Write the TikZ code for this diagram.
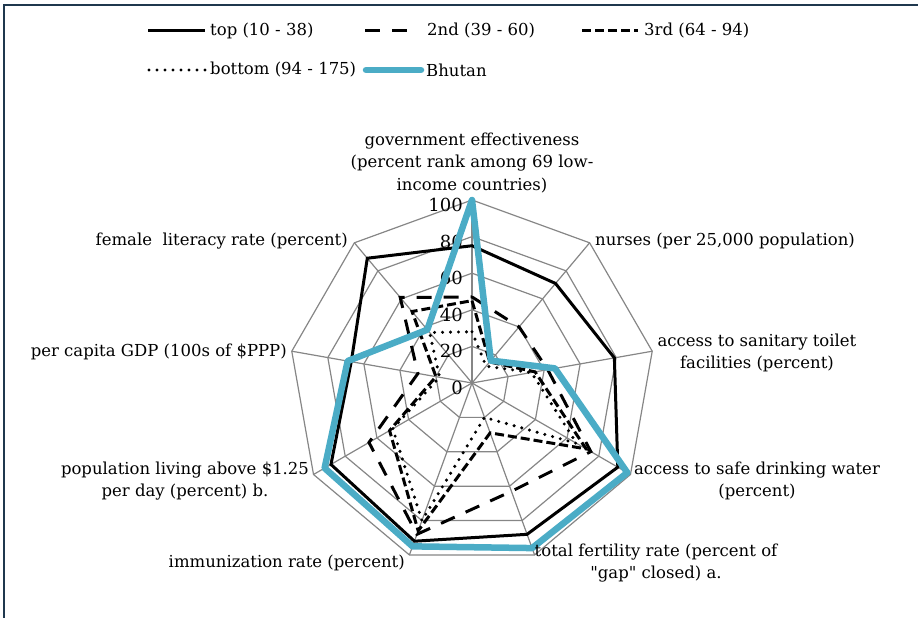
\documentclass[tikz,border=0pt]{standalone}
\usepackage{fontspec}
\setmainfont{DejaVu Serif}[Ligatures=TeXOff]
\definecolor{bhutanblue}{RGB}{75,172,198}
\definecolor{framecol}{RGB}{31,56,78}
\definecolor{gridgray}{RGB}{134,134,134}

\begin{document}
\begin{tikzpicture}[x=1pt,y=1pt,
    gridline/.style={draw=gridgray, line width=1.2pt},
    catlabel/.style={font=\fontsize{16.5}{22.5}\selectfont, align=center, inner sep=0pt},
    ticklabel/.style={font=\fontsize{18}{18}\selectfont, anchor=east, inner sep=0pt},
    legtext/.style={font=\fontsize{16.5}{16.5}\selectfont, anchor=west, inner sep=0pt},
    topline/.style={line width=3pt},
    secondline/.style={line width=3pt, dash pattern=on 15pt off 12pt},
    thirdline/.style={line width=3pt, dash pattern=on 9pt off 4pt},
    bottomline/.style={line width=3.4pt, dash pattern=on 0pt off 8pt, line cap=round},
    bhutanline/.style={line width=6.5pt, draw=bhutanblue, line join=round}]

    % Page size and the frame (only left and top edges show)
    \useasboundingbox (0,0) rectangle (918,618);
    \draw[draw=framecol, line width=1.4pt] (4,0) -- (4,613) -- (918,613);

    % Legend, first row
    \draw[topline] (148,587) -- (205,587);
    \node[legtext] (legtop) at (210,587) {top (10 - 38)};
    \draw[secondline] (365,587) -- (410,587);
    \node[legtext] (legsecond) at (427,587) {2nd (39 - 60)};
    \draw[thirdline] (582,587) -- (638,587);
    \node[legtext] (legthird) at (644,587) {3rd (64 - 94)};

    % Legend, second row
    \draw[bottomline] (149,548) -- (205,548);
    \node[legtext] (legbottom) at (210,548) {bottom (94 - 175)};
    \draw[bhutanline, line cap=round] (366,548) -- (421,548);
    \node[legtext] (legbhutan) at (426,548) {Bhutan};

    % Centre of the radar
    \coordinate (O) at (472,235);

    \begin{scope}[shift={(O)}]
        % Rings at 20, 40, ..., 100
        \foreach \r in {20,40,...,100}
            \draw[gridline] (90:{1.83*\r}) \foreach \k in {1,...,8} { -- ({90-40*\k}:{1.83*\r}) } -- cycle;

        % Spokes
        \foreach \k in {0,...,8}
            \draw[gridline] (0,0) -- ({90-40*\k}:183);

        % Scale labels
        \foreach \r in {0,20,...,100}
            \node[ticklabel] (tick\r) at (-9,{1.83*\r-5}) {\r};

        % bottom (94 - 175)
        \foreach \v [count=\k from 0] in {28,12,33,66,20,80,50,18,36}
            \coordinate (bot\k) at ({90-40*\k}:{1.83*\v});
        \draw[bottomline] (bot0) -- (bot1) -- (bot2) -- (bot3) -- (bot4) -- (bot5) -- (bot6) -- (bot7) -- (bot8) -- cycle;

        % 3rd (64 - 94)
        \foreach \v [count=\k from 0] in {45,15,35,72,29,86,52,20,51}
            \coordinate (third\k) at ({90-40*\k}:{1.83*\v});
        \draw[thirdline] (third0) -- (third1) -- (third2) -- (third3) -- (third4) -- (third5) -- (third6) -- (third7) -- (third8) -- cycle;

        % 2nd (39 - 60)
        \foreach \v [count=\k from 0] in {47,40,42,75,63,88,65,30,61}
            \coordinate (second\k) at ({90-40*\k}:{1.83*\v});
        \draw[secondline] (second0) -- (second1) -- (second2) -- (second3) -- (second4) -- (second5) -- (second6) -- (second7) -- (second8) -- cycle;

        % top (10 - 38)
        \foreach \v [count=\k from 0] in {75,71,79,92,88,92,89,67,89}
            \coordinate (top\k) at ({90-40*\k}:{1.83*\v});
        \draw[topline] (top0) -- (top1) -- (top2) -- (top3) -- (top4) -- (top5) -- (top6) -- (top7) -- (top8) -- cycle;

        % Bhutan
        \foreach \v [count=\k from 0] in {100,16,46,98,96,95,93,69,38}
            \coordinate (bt\k) at ({90-40*\k}:{1.83*\v});
        \draw[bhutanline] (bt0) -- (bt1) -- (bt2) -- (bt3) -- (bt4) -- (bt5) -- (bt6) -- (bt7) -- (bt8) -- cycle;
    \end{scope}

    % Category labels
    \node[catlabel] (gov) at (472,455) {government effectiveness\\(percent rank among 69 low-\\income countries)};
    \node[catlabel, anchor=west] (nurses) at (595,377) {nurses (per 25,000 population)};
    \node[catlabel] (sanitary) at (757,265) {access to sanitary toilet\\facilities (percent)};
    \node[catlabel] (water) at (757,137) {access to safe drinking water\\(percent)};
    \node[catlabel] (fertility) at (656,55) {total fertility rate (percent of\\"gap" closed) a.};
    \node[catlabel, anchor=east] (immun) at (405,55) {immunization rate (percent)};
    \node[catlabel] (poverty) at (185,137) {population living above \$1.25\\per day (percent) b.};
    \node[catlabel, anchor=east] (gdp) at (287,266) {per capita GDP (100s of \$PPP)};
    \node[catlabel, anchor=east] (literacy) at (348,377) {female\ \ literacy rate (percent)};

\end{tikzpicture}
\end{document}
